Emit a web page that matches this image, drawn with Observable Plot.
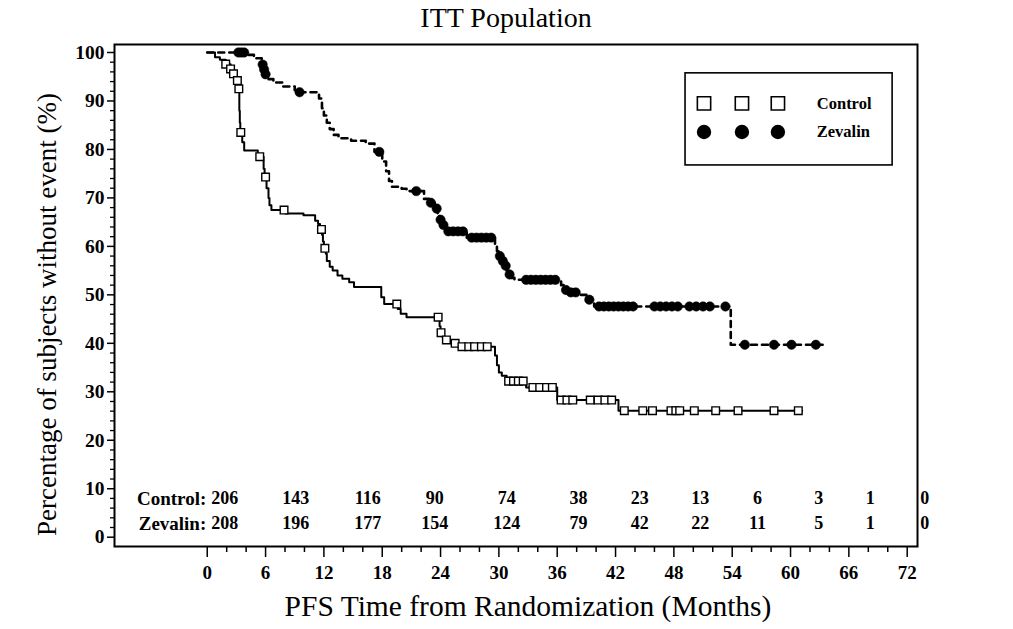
<!DOCTYPE html>
<html>
<head>
<meta charset="utf-8">
<script src="https://cdn.jsdelivr.net/npm/d3@7"></script>
<script src="https://cdn.jsdelivr.net/npm/@observablehq/plot@0.6"></script>
<style>
  html, body { margin: 0; padding: 0; background: #fff; }
  #chart { width: 1013px; height: 629px; overflow: hidden; }
</style>
</head>
<body>
<div id="chart"></div>
<script>
// ---- Data (months, % without event) ----
const controlTimes = [0,0.8,1.3,1.9,2.4,2.7,3.0,3.2,3.3,3.35,3.4,3.6,3.8,5.2,5.8,5.9,6.1,6.3,6.4,6.6,8.0,9.9,11.1,11.4,11.6,11.8,11.9,12.0,12.2,12.3,12.6,12.9,13.4,13.9,14.6,15.1,17.9,18.2,19.6,19.9,20.5,23.9,24.0,24.2,24.5,25.0,25.8,29.6,29.8,30.0,30.3,30.8,32.8,36.0,42.3,61.2];
const controlSurv  = [100,99.0,98.5,97.6,96.6,95.6,94.2,92.5,88.0,85.5,83.5,81.5,79.8,78.5,76.0,74.3,72.0,70.0,68.5,67.5,66.8,66.4,65.3,64.6,63.5,62.4,61.0,59.6,58.5,57.0,55.8,55.0,54.0,53.3,52.6,51.6,49.5,48.1,47.1,46.1,45.4,43.5,42.2,41.3,40.7,40.0,39.3,37.5,35.5,34.0,33.3,32.2,30.9,28.3,26.1,26.1];
const controlCensored = [1.9,2.4,2.7,3.1,3.25,3.45,5.4,6.0,7.9,11.75,12.1,19.5,23.75,24.05,24.6,25.5,26.2,26.9,27.5,28.2,28.8,31.0,31.5,32.0,32.5,33.5,34.2,34.9,35.5,36.4,37.0,37.6,39.4,40.2,40.9,41.6,42.9,44.8,45.8,47.7,48.2,48.6,50.1,52.3,54.6,58.3,60.8];

const zevalinTimes = [0,4.2,4.8,5.6,5.8,5.9,6.2,6.8,7.8,9.0,9.3,11.5,11.8,12.0,12.3,12.6,13.0,13.5,14.8,16.3,17.2,18.0,18.4,18.7,19.0,20.0,20.5,22.3,22.8,23.4,23.7,23.9,24.2,24.5,26.7,29.6,29.8,30.0,30.3,30.5,30.8,31.0,31.3,31.6,36.4,36.8,37.4,38.2,39.0,39.8,53.85,63.3];
const zevalinSurv  = [100,99.5,98.8,97.5,96.5,95.5,94.5,93.8,93.0,92.2,91.8,90.5,88.5,87.0,85.5,84.2,83.0,82.3,81.8,81.2,79.5,77.5,75.5,73.5,72.3,71.9,71.4,69.8,69.0,67.8,66.5,65.5,64.4,63.1,61.8,60.3,59.0,58.0,57.0,56.0,55.0,54.2,53.5,53.1,52.0,51.0,50.5,50.0,49.0,47.6,39.7,39.7];
const zevalinCensored = [3.2,3.5,3.8,5.7,5.85,6.0,9.5,17.7,21.5,23.0,23.6,24.0,24.3,24.8,25.3,25.8,26.3,27.2,27.7,28.2,28.7,29.2,30.1,30.4,30.7,31.1,32.8,33.3,33.8,34.3,34.8,35.3,35.8,36.9,37.4,37.9,39.3,40.3,40.8,41.3,41.8,42.3,42.8,43.3,43.8,46.0,46.6,47.2,47.8,48.4,49.6,50.3,51.0,51.7,53.3,55.3,58.3,60.1,62.6];

// Numbers at risk (printed at these month positions in the reference)
const riskMonths   = [0,6,12,18,24,30,36,42,48,54,60,66];
const riskTextAt   = [1.8,9.1,16.5,23.4,30.8,38.2,44.5,50.7,56.6,62.9,68.2,73.8];
const controlRisk  = [206,143,116,90,74,38,23,13,6,3,1,0];
const zevalinRisk  = [208,196,177,154,124,79,42,22,11,5,1,0];

const xTicks = d3.range(0, 73, 6);
const yTicks = d3.range(0, 101, 10);

const title  = "ITT Population";
const xLabel = "PFS Time from Randomization (Months)";
const yLabel = "Percentage of subjects without event (%)";
const seriesNames = ["Control", "Zevalin"];

// ---- Build tables ----
const ctrl = controlTimes.map((t, i) => ({t, s: controlSurv[i]}));
const zev  = zevalinTimes.map((t, i) => ({t, s: zevalinSurv[i]}));
function survAt(steps, t) {
  let s = steps[0].s;
  for (const d of steps) { if (d.t <= t) s = d.s; else break; }
  return s;
}
const ctrlCens = controlCensored.map(t => ({t, s: survAt(ctrl, t)}));
const zevCens  = zevalinCensored.map(t => ({t, s: survAt(zev, t)}));

const serif = "'Liberation Serif', 'Times New Roman', Times, serif";

const chart = Plot.plot({
  width: 1013,
  height: 629,
  marginLeft: 114,
  marginRight: 96,
  marginTop: 44,
  marginBottom: 83,
  style: {fontFamily: serif, background: "#fff", color: "#000", overflow: "visible"},
  x: {domain: [-9.54, 73.06], axis: null},
  y: {domain: [-1.92, 101.65], axis: null},
  marks: [
    // axes
    Plot.axisX(xTicks.flatMap(d => d < 72 ? [d + 2, d + 4] : []), {anchor: "bottom", tickSize: 6, fill: "none", label: null, strokeWidth: 1.5}),
    Plot.axisX(xTicks, {anchor: "bottom", tickSize: 11, tickPadding: 8, fontSize: 19, fontWeight: "bold", label: null, strokeWidth: 1.5}),
    Plot.axisY(d3.range(0, 101, 2).filter(d => d % 10), {anchor: "left", tickSize: 4, fill: "none", label: null, strokeWidth: 1.3}),
    Plot.axisY(yTicks, {anchor: "left", tickSize: 7, tickPadding: 3, fontSize: 19.5, fontWeight: "bold", label: null, strokeWidth: 1.5}),
    Plot.frame({stroke: "#000", strokeWidth: 2}),

    // KM curves
    Plot.line(zev, {x: "t", y: "s", curve: "step-after", stroke: "#000", strokeWidth: 2.6, strokeDasharray: "6,5"}),
    Plot.line(ctrl, {x: "t", y: "s", curve: "step-after", stroke: "#000", strokeWidth: 2}),
    Plot.dot(ctrlCens, {x: "t", y: "s", symbol: "square", r: 4.3, fill: "#fff", stroke: "#000", strokeWidth: 1.4}),
    Plot.dot(zevCens, {x: "t", y: "s", symbol: "circle", r: 4.7, fill: "#000", stroke: "#000", strokeWidth: 0.5}),

    // legend
    Plot.rect([0], {x1: 49.2, x2: 70.5, y1: 76.7, y2: 95.7, fill: "#fff", stroke: "#000", strokeWidth: 1.6}),
    Plot.dot([51.1, 55.0, 58.7], {x: d => d, y: () => 89.5, symbol: "square", r: 7.5, fill: "#fff", stroke: "#000", strokeWidth: 1.6}),
    Plot.dot([51.1, 55.0, 58.7], {x: d => d, y: () => 83.6, symbol: "circle", r: 7.2, fill: "#000"}),
    Plot.text(seriesNames, {x: () => 62.7, y: (d, i) => i === 0 ? 89.5 : 83.6, text: d => d, textAnchor: "start", fontSize: 16.5, fontWeight: "bold"}),

    // numbers at risk
    Plot.text(["Control:"], {x: () => -0.1, y: () => 8.0, text: d => d, textAnchor: "end", fontSize: 19, fontWeight: "bold"}),
    Plot.text(["Zevalin:"], {x: () => -0.1, y: () => 2.8, text: d => d, textAnchor: "end", fontSize: 19, fontWeight: "bold"}),
    Plot.text(controlRisk, {x: (d, i) => riskTextAt[i], y: () => 8.0, text: d => String(d), fontSize: 18, fontWeight: "bold"}),
    Plot.text(zevalinRisk, {x: (d, i) => riskTextAt[i], y: () => 2.8, text: d => String(d), fontSize: 18, fontWeight: "bold"}),

    // titles
    Plot.text([title], {frameAnchor: "top", textAnchor: "middle", dx: -10, dy: -37, text: d => d, fontSize: 28}),
    Plot.text([xLabel], {frameAnchor: "bottom", textAnchor: "middle", dx: 12, dy: 69, text: d => d, fontSize: 29.5}),
    Plot.text([yLabel], {frameAnchor: "left", textAnchor: "middle", lineAnchor: "middle", dx: -67, dy: 19, rotate: -90, text: d => d, fontSize: 27})
  ]
});
document.getElementById("chart").appendChild(chart);
</script>
</body>
</html>
